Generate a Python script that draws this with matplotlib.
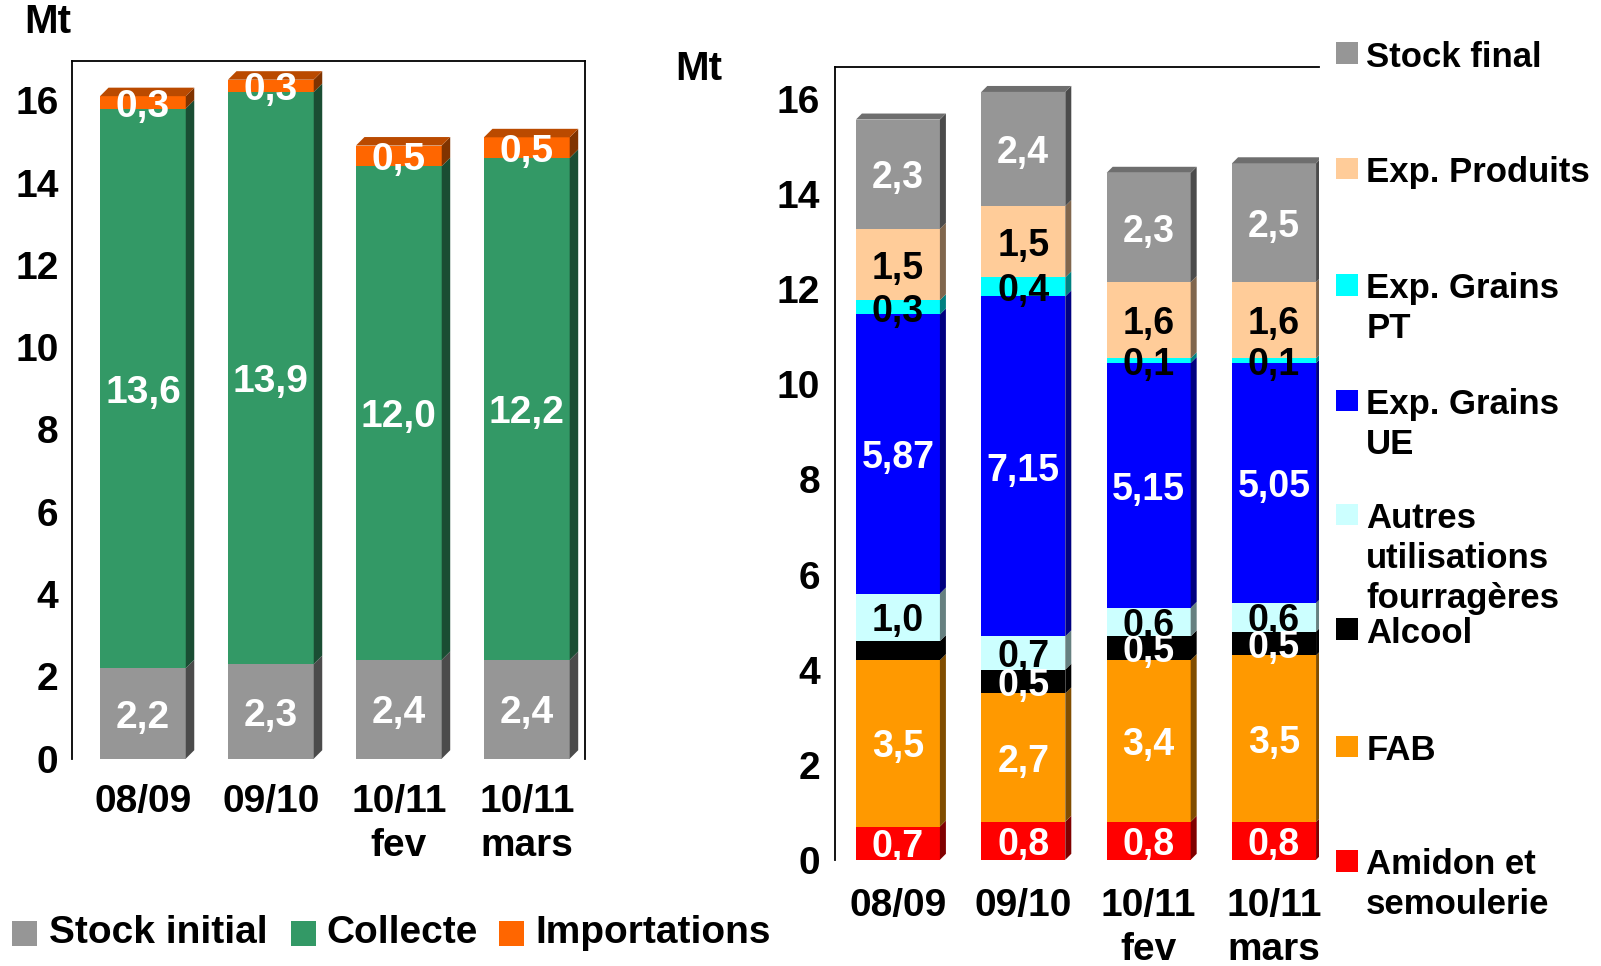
import matplotlib
matplotlib.use("Agg")
import matplotlib.pyplot as plt
from matplotlib.patches import Polygon, Rectangle
import matplotlib.colors as mcolors
import numpy as np

plt.rcParams['font.family'] = ['Liberation Sans', 'DejaVu Sans']
plt.rcParams['font.weight'] = 'bold'

# ---------------- data ----------------
categories = ['08/09', '09/10', '10/11\nfev', '10/11\nmars']
yticks = [0, 2, 4, 6, 8, 10, 12, 14, 16]

# left chart (ressources)
stock_initial = [2.2, 2.3, 2.4, 2.4]
collecte = [13.6, 13.9, 12.0, 12.2]
importations = [0.3, 0.3, 0.5, 0.5]
left_names = ['Stock initial', 'Collecte', 'Importations']
left_colors = ['#969696', '#339966', '#FF6600']
left_label_colors = ['white', 'white', 'white']

# right chart (emplois), bottom -> top
amidon = [0.7, 0.8, 0.8, 0.8]
fab = [3.5, 2.7, 3.4, 3.5]
alcool = [0.4, 0.5, 0.5, 0.5]
autres = [1.0, 0.7, 0.6, 0.6]
exp_ue = [5.87, 7.15, 5.15, 5.05]
exp_pt = [0.3, 0.4, 0.1, 0.1]
exp_produits = [1.5, 1.5, 1.6, 1.6]
stock_final = [2.3, 2.4, 2.3, 2.5]
right_names = ['Amidon et\nsemoulerie', 'FAB', 'Alcool',
               'Autres\nutilisations\nfourragères', 'Exp. Grains\nUE',
               'Exp. Grains\nPT', 'Exp. Produits', 'Stock final']
right_colors = ['#FF0000', '#FF9900', '#000000', '#CCFFFF', '#0000FF',
                '#00FFFF', '#FFCC99', '#969696']
right_label_colors = ['white', 'white', 'white', 'black', 'white',
                      'black', 'black', 'white']
right_decimals = [1, 1, 1, 1, 2, 1, 1, 1]
alcool_label_shown = [False, True, True, True]

# ---------------- helpers ----------------
DW, DH = 1568.0, 946.0  # reference coordinate frame


def fx(x):
    return x / DW


def fy(y):
    return 1 - y / DH


def shade(c, f):
    r, g, b = mcolors.to_rgb(c)
    return (r * f, g * f, b * f)


def fmt(v, d):
    return f"{v:.{d}f}".replace('.', ',')


def stacked3d(ax, series, colors, label_colors, labels, width, depth_px, fontsize):
    fig = ax.figure
    pos = ax.get_position()
    wpx = pos.width * fig.get_figwidth() * fig.dpi
    hpx = pos.height * fig.get_figheight() * fig.dpi
    x0, x1 = ax.get_xlim()
    y0, y1 = ax.get_ylim()
    dx = depth_px * (x1 - x0) / wpx
    dy = depth_px * (y1 - y0) / hpx
    x = np.arange(len(series[0]))
    bottom = np.zeros(len(x))
    for vals, col in zip(series, colors):
        vals = np.asarray(vals, float)
        ax.bar(x, vals, width, bottom=bottom, color=col, edgecolor='none',
               zorder=2, linewidth=0)
        for xi, b, h in zip(x, bottom, vals):
            xr = xi + width / 2
            ax.add_patch(Polygon([(xr, b), (xr + dx, b + dy), (xr + dx, b + h + dy),
                                  (xr, b + h)], closed=True,
                                 facecolor=shade(col, 0.5), edgecolor='none',
                                 zorder=2))
        bottom = bottom + vals
    top_col = colors[-1]
    for xi, t in zip(x, bottom):
        xl, xr = xi - width / 2, xi + width / 2
        ax.add_patch(Polygon([(xl, t), (xr, t), (xr + dx, t + dy), (xl + dx, t + dy)],
                             closed=True, facecolor=shade(top_col, 0.73),
                             edgecolor='none', zorder=2))
    # labels
    bottom = np.zeros(len(x))
    for vals, lc, labs in zip(series, label_colors, labels):
        vals = np.asarray(vals, float)
        for xi, b, h, s in zip(x, bottom, vals, labs):
            if s:
                ax.annotate(s, (xi, b + h / 2), xytext=(0, -3),
                            textcoords='offset points', ha='center', va='center',
                            color=lc, fontsize=fontsize, fontweight='bold', zorder=5)
        bottom = bottom + vals


def style_axes(ax, ylim, xlim, xpad, ypad, right_spine):
    ax.set_xlim(*xlim)
    ax.set_ylim(*ylim)
    ax.set_yticks(yticks)
    ax.set_xticks(range(len(categories)))
    ax.set_xticklabels(categories, linespacing=1.3)
    ax.tick_params(axis='both', length=0, labelsize=28)
    ax.tick_params(axis='x', pad=xpad)
    ax.tick_params(axis='y', pad=ypad)
    for lab in ax.get_xticklabels() + ax.get_yticklabels():
        lab.set_fontweight('bold')
    ax.spines['bottom'].set_visible(False)
    ax.spines['right'].set_visible(right_spine)
    for s in ['left', 'top', 'right']:
        ax.spines[s].set_linewidth(1.3)


# ---------------- figure ----------------
fig = plt.figure(figsize=(16.01, 9.66), dpi=100)

# left axes
lb, lt = 743, 60
axL = fig.add_axes([fx(71), fy(lb), fx(573) - fx(71), fy(lt) - fy(lb)])
style_axes(axL, (0, (lb - lt) / 40.3), (-0.55, 3.455), 18, 10, True)
left_series = [stock_initial, collecte, importations]
left_labels = [[fmt(v, 1) for v in s] for s in left_series]
stacked3d(axL, left_series, left_colors, left_label_colors, left_labels,
          0.67, 8.5, 28)

# right axes
rb, rt = 842, 66
axR = fig.add_axes([fx(818), fy(rb), fx(1292) - fx(818), fy(rt) - fy(rb)])
style_axes(axR, (0, (rb - rt) / 46.56), (-0.5, 3.36), 20, 11, False)
right_series = [amidon, fab, alcool, autres, exp_ue, exp_pt, exp_produits, stock_final]
right_labels = []
for s, d in zip(right_series, right_decimals):
    right_labels.append([fmt(v, d) for v in s])
right_labels[2] = [fmt(v, 1) if show else '' for v, show in zip(alcool, alcool_label_shown)]
stacked3d(axR, right_series, right_colors, right_label_colors, right_labels,
          0.67, 6, 27)

# unit labels
fig.text(fx(47), fy(22), 'Mt', ha='center', va='center', fontsize=29, fontweight='bold')
fig.text(fx(684), fy(68), 'Mt', ha='center', va='center', fontsize=29, fontweight='bold')

# left legend (horizontal, bottom)
left_leg_sq = [12, 285, 489]
left_leg_tx = [48, 320, 524]
for name, col, sx, tx in zip(left_names, left_colors, left_leg_sq, left_leg_tx):
    fig.patches.append(Rectangle((fx(sx), fy(926)), fx(24), fy(902) - fy(926),
                                 transform=fig.transFigure, facecolor=col,
                                 edgecolor='none'))
    fig.text(fx(tx), fy(914), name, ha='left', va='center', fontsize=28,
             fontweight='bold')

# right legend (vertical)
leg_fs = 25
em_px = leg_fs * 100 / 72.0
leg_centers = [52, 165, 279, 392, 504, 616, 731, 843]
for name, col, cy in zip(right_names[::-1], right_colors[::-1], leg_centers):
    fig.patches.append(Rectangle((fx(1308), fy(cy + 10.5)), fx(22), fy(cy - 10.5) - fy(cy + 10.5),
                                 transform=fig.transFigure, facecolor=col,
                                 edgecolor='none'))
    ytop = fy(cy) + 0.36 * em_px / 966.0
    fig.text(fx(1338), ytop, name, ha='left', va='top', fontsize=leg_fs,
             fontweight='bold', linespacing=1.27)

fig.savefig('out.png', dpi=100)
